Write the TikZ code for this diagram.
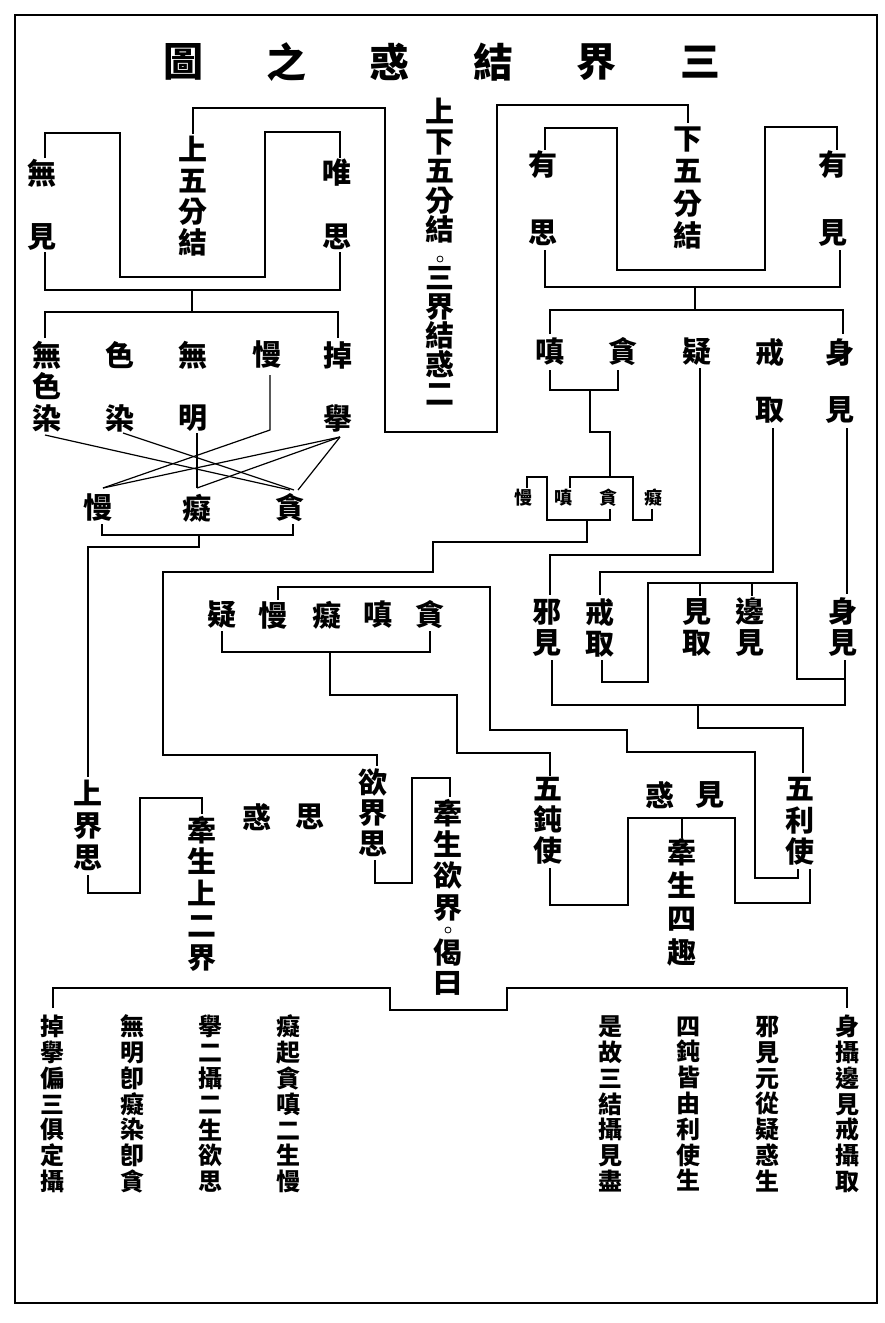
\documentclass[tikz,border=0pt]{standalone}
\usepackage{fontspec}
\newfontfamily\cjk{Noto Sans CJK TC}
\begin{document}
\begin{tikzpicture}[x=1pt,y=-1pt,
  big/.style={font=\cjk\bfseries\fontsize{29}{31}\selectfont, inner sep=0pt, align=center},
  stack/.style={font=\cjk\bfseries\fontsize{29}{#1}\selectfont, inner sep=0pt, align=center},
  ttl/.style={font=\cjk\bfseries\fontsize{40}{40}\selectfont, inner sep=0pt},
  sml/.style={font=\cjk\bfseries\fontsize{18}{18}\selectfont, inner sep=0pt},
  vrs/.style={font=\cjk\bfseries\fontsize{24}{25.8}\selectfont, inner sep=0pt, align=center},
  ln/.style={line width=1.2pt, line join=miter},
  frm/.style={line width=2.8pt},
  odot/.style={circle, draw, line width=0.8pt, minimum size=6pt, inner sep=0pt}]
\useasboundingbox (0,0) rectangle (885,1323);
\draw[frm] (15,15) rectangle (877,1303);
% title
\node[ttl] (t1) at (183,62) {圖};
\node[ttl] (t2) at (286.4,62) {之};
\node[ttl] (t3) at (389.8,62) {惑};
\node[ttl] (t4) at (493.2,62) {結};
\node[ttl] (t5) at (596.6,62) {界};
\node[ttl] (t6) at (700,62) {三};
% top left
\node[big] (wu1) at (42,173) {無};
\node[big] (jian1) at (42,237) {見};
\node[big] (wei) at (337,173) {唯};
\node[big] (si1) at (337,237) {思};
\node[stack=31] (s5) at (193,196) {上\\五\\分\\結};
% middle column
\node[stack=29.5] (mid1) at (440,171) {上\\下\\五\\分\\結};
\node[odot] (dot1) at (440,259) {};
\node[stack=29] (mid2) at (440,335.5) {三\\界\\結\\惑\\二};
% top right
\node[big] (you1) at (543,165) {有};
\node[big] (si2) at (543,233) {思};
\node[big] (you2) at (833,165) {有};
\node[big] (jian2) at (833,233) {見};
\node[stack=32.5] (x5) at (688,188) {下\\五\\分\\結};
% left row
\node[stack=31.5] (wsr) at (47,386.5) {無\\色\\染};
\node[big] (se) at (120,355) {色};
\node[big] (ran) at (120,418) {染};
\node[big] (wu2) at (193,355) {無};
\node[big] (ming) at (193,418) {明};
\node[big] (man1) at (267,355) {慢};
\node[big] (diao) at (338,355) {掉};
\node[big] (ju) at (338,418) {擧};
\node[big] (man2) at (98,508) {慢};
\node[big] (chi1) at (197,508) {癡};
\node[big] (tan1) at (290,508) {貪};
% right row
\node[big] (chen1) at (550,352) {嗔};
\node[big] (tan2) at (623,352) {貪};
\node[big] (yi1) at (697,352) {疑};
\node[big] (jie1) at (770,352) {戒};
\node[big] (shen1) at (840,352) {身};
\node[big] (qu1) at (770,410) {取};
\node[big] (jian3) at (840,410) {見};
% small group
\node[sml] (man3) at (523,498) {慢};
\node[sml] (chen2) at (563,498) {嗔};
\node[sml] (tan3) at (608,498) {貪};
\node[sml] (chi2) at (653,498) {癡};
% five dull
\node[big] (yi2) at (222,615) {疑};
\node[big] (man4) at (273,615) {慢};
\node[big] (chi3) at (327,615) {癡};
\node[big] (chen3) at (378,615) {嗔};
\node[big] (tan4) at (430,615) {貪};
% right lower
\node[stack=31] (xj) at (547,627.5) {邪\\見};
\node[stack=31] (jq) at (600,627.5) {戒\\取};
\node[stack=31] (jianq) at (697,627.5) {見\\取};
\node[stack=31] (bj) at (750,627.5) {邊\\見};
\node[stack=31] (sj) at (843,627.5) {身\\見};
\node[stack=31] (wds) at (548,821) {五\\鈍\\使};
\node[stack=31.5] (wls) at (800,821.5) {五\\利\\使};
\node[big] (huo1) at (660,795) {惑};
\node[big] (jian4) at (710,795) {見};
\node[stack=33.3] (qs4) at (682,902) {牽\\生\\四\\趣};
% lower left
\node[stack=32] (sjs) at (88,825) {上\\界\\思};
\node[stack=31.75] (qssj) at (202,893.5) {牽\\生\\上\\二\\界};
\node[big] (huo2) at (257,817) {惑};
\node[big] (si3) at (310,817) {思};
\node[stack=30.5] (yjs) at (373,812.5) {欲\\界\\思};
\node[stack=31.3] (qsyj) at (448,860) {牽\\生\\欲\\界};
\node[odot] (dot2) at (448,930) {};
\node[stack=30] (jy) at (448,967) {偈\\曰};
% verses
\node[vrs] (v1) at (52,1104) {掉\\擧\\偏\\三\\俱\\定\\攝};
\node[vrs] (v2) at (132,1104) {無\\明\\卽\\癡\\染\\卽\\貪};
\node[vrs] (v3) at (210,1104) {擧\\二\\攝\\二\\生\\欲\\思};
\node[vrs] (v4) at (288,1104) {癡\\起\\貪\\嗔\\二\\生\\慢};
\node[vrs] (v5) at (610,1104) {是\\故\\三\\結\\攝\\見\\盡};
\node[vrs] (v6) at (688,1104) {四\\鈍\\皆\\由\\利\\使\\生};
\node[vrs] (v7) at (767,1104) {邪\\見\\元\\從\\疑\\惑\\生};
\node[vrs] (v8) at (847,1104) {身\\攝\\邊\\見\\戒\\攝\\取};
% connectors top left
\draw[ln] (45,158) -- (45,133) -- (120,133) -- (120,277) -- (265,277) -- (265,132) -- (340,132) -- (340,158);
\draw[ln] (193,134) -- (193,108) -- (385,108) -- (385,432) -- (497,432) -- (497,105) -- (688,105) -- (688,123);
\draw[ln] (45,252) -- (45,290) -- (340,290) -- (340,252);
\draw[ln] (192,290) -- (192,312);
\draw[ln] (45,338) -- (45,312) -- (338,312) -- (338,338);
\draw[ln] (45,435) -- (290,490);
\draw[ln] (123,433) -- (294,490);
\draw[ln] (197,433) -- (197,488);
\draw[ln] (270,375) -- (270,430) -- (103,488);
\draw[ln] (340,437) -- (103,488);
\draw[ln] (340,437) -- (197,488);
\draw[ln] (340,437) -- (298,490);
\draw[ln] (102,524) -- (102,535) -- (293,535) -- (293,524);
\draw[ln] (199,535) -- (199,547) -- (88,547) -- (88,777);
% top right
\draw[ln] (545,150) -- (545,128) -- (617,128) -- (617,270) -- (765,270) -- (765,127) -- (837,127) -- (837,150);
\draw[ln] (545,250) -- (545,287) -- (840,287) -- (840,250);
\draw[ln] (695,287) -- (695,310);
\draw[ln] (550,334) -- (550,310) -- (843,310) -- (843,334);
\draw[ln] (550,370) -- (550,390) -- (618,390) -- (618,370);
\draw[ln] (590,390) -- (590,432) -- (610,432) -- (610,477);
\draw[ln] (700,368) -- (700,555) -- (550,555) -- (550,595);
\draw[ln] (773,428) -- (773,572) -- (600,572) -- (600,595);
\draw[ln] (847,428) -- (847,594);
% small group
\draw[ln] (527,488) -- (527,477) -- (547,477) -- (547,520) -- (610,520) -- (610,509);
\draw[ln] (570,488) -- (570,477) -- (633,477) -- (633,520) -- (652,520) -- (652,509);
\draw[ln] (587,520) -- (587,542) -- (433,542) -- (433,572) -- (163,572) -- (163,755) -- (377,755) -- (377,766);
% five dull
\draw[ln] (278,600) -- (278,587) -- (490,587) -- (490,730) -- (627,730) -- (627,752) -- (755,752) -- (755,878) -- (798,878) -- (798,869);
\draw[ln] (222,631) -- (222,652) -- (430,652) -- (430,631);
\draw[ln] (330,652) -- (330,695) -- (457,695) -- (457,753) -- (550,753) -- (550,776);
% right lower
\draw[ln] (602,660) -- (602,682) -- (648,682) -- (648,583) -- (797,583) -- (797,679) -- (845,679);
\draw[ln] (700,583) -- (700,596);
\draw[ln] (752,583) -- (752,596);
\draw[ln] (552,660) -- (552,705) -- (845,705) -- (845,660);
\draw[ln] (698,705) -- (698,728) -- (803,728) -- (803,773);
\draw[ln] (550,868) -- (550,905) -- (628,905) -- (628,818) -- (735,818) -- (735,903) -- (810,903) -- (810,869);
\draw[ln] (682,818) -- (682,838);
% lower left
\draw[ln] (88,875) -- (88,893) -- (140,893) -- (140,798) -- (202,798) -- (202,814);
\draw[ln] (375,860) -- (375,883) -- (412,883) -- (412,778) -- (450,778) -- (450,797);
% bottom
\draw[ln] (53,1008) -- (53,988) -- (390,988) -- (390,1010) -- (507,1010) -- (507,988) -- (847,988) -- (847,1008);
\end{tikzpicture}
\end{document}
